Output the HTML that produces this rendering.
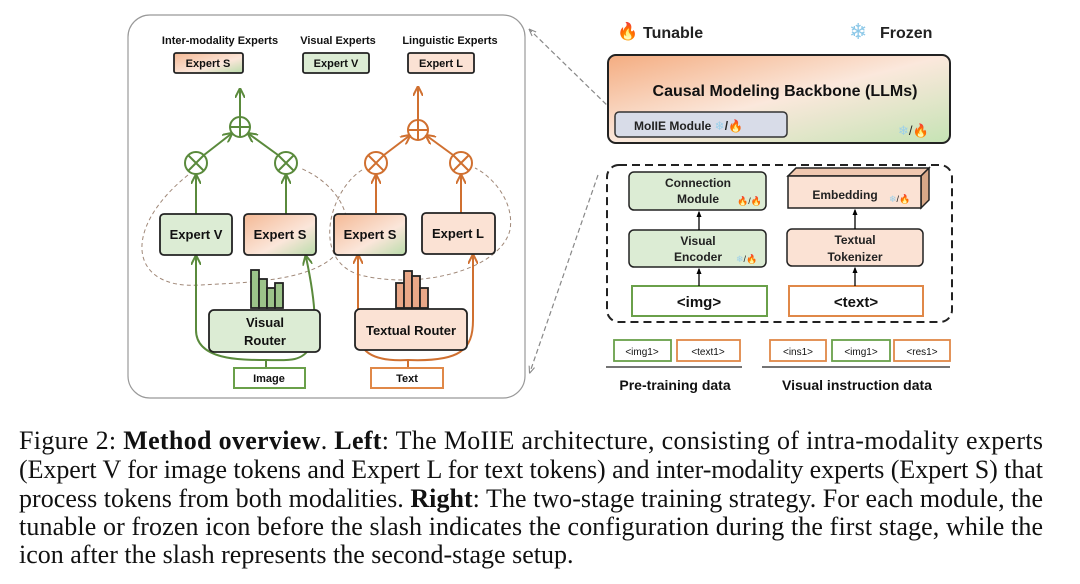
<!DOCTYPE html>
<html><head><meta charset="utf-8"><style>
body{margin:0;background:#fff;width:1080px;height:579px;overflow:hidden}
svg text{font-family:"Liberation Sans","DejaVu Sans",sans-serif}
.c{font-family:"Liberation Serif",serif;font-size:26px;fill:#111}
</style></head><body>
<svg width="1080" height="579" viewBox="0 0 1080 579" xmlns="http://www.w3.org/2000/svg">
<defs>
<marker id="ag" viewBox="0 0 10 10" refX="8" refY="5" markerWidth="5" markerHeight="5" orient="auto"><path d="M0,0 L10,5 L0,10" fill="none" stroke="#5a8a3c" stroke-width="2"/></marker>
<marker id="ao" viewBox="0 0 10 10" refX="8" refY="5" markerWidth="5" markerHeight="5" orient="auto"><path d="M0,0 L10,5 L0,10" fill="none" stroke="#d07030" stroke-width="2"/></marker>
<marker id="ak" viewBox="0 0 10 10" refX="8" refY="5" markerWidth="5" markerHeight="5" orient="auto"><path d="M0,1 L10,5 L0,9z" fill="#000"/></marker>
<marker id="agr" viewBox="0 0 10 10" refX="8" refY="5" markerWidth="6" markerHeight="6" orient="auto"><path d="M0,1 L10,5 L0,9" fill="none" stroke="#888" stroke-width="1.5"/></marker>
<linearGradient id="gs" x1="0" y1="0" x2="1" y2="1"><stop offset="0" stop-color="#f4b894"/><stop offset=".6" stop-color="#fbe6da"/><stop offset="1" stop-color="#b9dcaa"/></linearGradient>
<linearGradient id="gb" x1="0" y1="0" x2="1" y2="1"><stop offset="0" stop-color="#f4ac80"/><stop offset=".5" stop-color="#fbe8dc"/><stop offset="1" stop-color="#c5e3b4"/></linearGradient>
</defs>
<rect x="128" y="15" width="397" height="383" rx="22" fill="none" stroke="#999" stroke-width="1.2"/>
<g font-size="11" font-weight="bold" text-anchor="middle" fill="#111">
<text x="220" y="44">Inter-modality Experts</text><text x="338" y="44">Visual Experts</text><text x="450" y="44">Linguistic Experts</text>
</g>
<g stroke="#222" stroke-width="1.8">
<rect x="174" y="53" width="69" height="20" rx="2" fill="url(#gs)"/>
<rect x="303" y="53" width="66" height="20" rx="2" fill="#dcecd4"/>
<rect x="408" y="53" width="66" height="20" rx="2" fill="#fbe2d4"/>
</g>
<g font-size="11" font-weight="bold" text-anchor="middle" fill="#111">
<text x="208" y="67">Expert S</text><text x="336" y="67">Expert V</text><text x="441" y="67">Expert L</text>
</g>
<path d="M188,175 C120,230 130,290 200,285 C260,282 330,280 345,240 C355,210 330,180 300,168" fill="none" stroke="#a08878" stroke-dasharray="4,3" stroke-width="1"/>
<path d="M362,170 C330,190 310,260 360,275 C420,290 500,270 510,230 C515,200 490,175 475,168" fill="none" stroke="#a08878" stroke-dasharray="4,3" stroke-width="1"/>
<g stroke="#5a8a3c" stroke-width="2" fill="none">
<circle cx="240" cy="127" r="10"/><path d="M230,127h20M240,117v20"/>
<line x1="240" y1="117" x2="240" y2="90" marker-end="url(#ag)"/>
<circle cx="196" cy="163" r="11"/><path d="M188,155l16,16M204,155l-16,16"/>
<circle cx="286" cy="163" r="11"/><path d="M278,155l16,16M294,155l-16,16"/>
<line x1="204" y1="155" x2="231" y2="134" marker-end="url(#ag)"/>
<line x1="278" y1="155" x2="249" y2="134" marker-end="url(#ag)"/>
<line x1="196" y1="214" x2="196" y2="176" marker-end="url(#ag)"/>
<line x1="286" y1="214" x2="286" y2="176" marker-end="url(#ag)"/>
<path d="M266,368 V360 C240,360 196,360 196,330 V257" marker-end="url(#ag)"/>
<path d="M266,360 C300,360 330,370 306,257" marker-end="url(#ag)"/>
</g>
<g stroke="#d07030" stroke-width="2" fill="none">
<circle cx="418" cy="130" r="10"/><path d="M408,130h20M418,120v20"/>
<line x1="418" y1="120" x2="418" y2="88" marker-end="url(#ao)"/>
<circle cx="376" cy="163" r="11"/><path d="M368,155l16,16M384,155l-16,16"/>
<circle cx="461" cy="163" r="11"/><path d="M453,155l16,16M469,155l-16,16"/>
<line x1="384" y1="155" x2="409" y2="136" marker-end="url(#ao)"/>
<line x1="453" y1="155" x2="427" y2="136" marker-end="url(#ao)"/>
<line x1="376" y1="213" x2="376" y2="176" marker-end="url(#ao)"/>
<line x1="461" y1="213" x2="461" y2="176" marker-end="url(#ao)"/>
<path d="M408,368 V360 C370,362 358,350 358,330 C358,300 358,280 358,256" marker-end="url(#ao)"/>
<path d="M408,360 C460,362 473,350 473,320 V256" marker-end="url(#ao)"/>
</g>
<g stroke="#222" stroke-width="1.8">
<rect x="160" y="214" width="72" height="41" rx="4" fill="#dcecd4"/>
<rect x="244" y="214" width="72" height="41" rx="4" fill="url(#gs)"/>
<rect x="334" y="214" width="72" height="41" rx="4" fill="url(#gs)"/>
<rect x="422" y="213" width="73" height="41" rx="4" fill="#fbe2d4"/>
<rect x="209" y="310" width="111" height="42" rx="5" fill="#dcecd4"/>
<rect x="355" y="309" width="112" height="41" rx="5" fill="#fbe2d4"/>
<rect x="251" y="270" width="8" height="38" fill="#9cc48a"/><rect x="259" y="279" width="8" height="29" fill="#9cc48a"/><rect x="267" y="288" width="8" height="20" fill="#9cc48a"/><rect x="275" y="283" width="8" height="25" fill="#9cc48a"/>
<rect x="396" y="283" width="8" height="25" fill="#eaa888"/><rect x="404" y="271" width="8" height="37" fill="#eaa888"/><rect x="412" y="276" width="8" height="32" fill="#eaa888"/><rect x="420" y="288" width="8" height="20" fill="#eaa888"/>
</g>
<rect x="234" y="368" width="71" height="20" fill="#fff" stroke="#6aa04a" stroke-width="2"/>
<rect x="371" y="368" width="72" height="20" fill="#fff" stroke="#e08848" stroke-width="2"/>
<g font-size="13" font-weight="bold" text-anchor="middle" fill="#111">
<text x="196" y="239">Expert V</text><text x="280" y="239">Expert S</text><text x="370" y="239">Expert S</text><text x="458" y="238">Expert L</text>
<text x="265" y="327">Visual</text><text x="265" y="345">Router</text><text x="411" y="335">Textual Router</text>
</g>
<g font-size="11" font-weight="bold" text-anchor="middle" fill="#111"><text x="269" y="382">Image</text><text x="407" y="382">Text</text></g>
<line x1="612" y1="110" x2="530" y2="30" stroke="#888" stroke-dasharray="5,3" stroke-width="1.2" marker-end="url(#agr)"/>
<line x1="598" y1="175" x2="530" y2="372" stroke="#888" stroke-dasharray="5,3" stroke-width="1.2" marker-end="url(#agr)"/>
<text x="617" y="37" font-size="17">🔥</text><text x="643" y="38" font-size="16" font-weight="bold" fill="#222">Tunable</text>
<text x="849" y="39" font-size="22" fill="#8cc8e8">❄</text><text x="880" y="38" font-size="16" font-weight="bold" fill="#222">Frozen</text>
<rect x="608" y="55" width="342" height="88" rx="8" fill="url(#gb)" stroke="#222" stroke-width="2"/>
<text x="785" y="96" font-size="16" font-weight="bold" text-anchor="middle" fill="#111">Causal Modeling Backbone (LLMs)</text>
<rect x="615" y="112" width="172" height="25" rx="4" fill="#d8dce8" stroke="#333" stroke-width="1.5"/>
<text x="634" y="130" font-size="12" font-weight="bold" fill="#222">MoIIE Module <tspan fill="#9cd0ea">❄</tspan>/🔥</text>
<text x="898" y="135" font-size="13" fill="#222"><tspan fill="#9cd0ea">❄</tspan>/🔥</text>
<rect x="607" y="165" width="345" height="157" rx="12" fill="none" stroke="#222" stroke-width="2" stroke-dasharray="8,5"/>
<g stroke="#222" stroke-width="1.5">
<rect x="629" y="172" width="137" height="38" rx="5" fill="#dcecd4"/>
<rect x="629" y="230" width="137" height="37" rx="5" fill="#dcecd4"/>
<path d="M788,176 l8,-8 h133 l-8,8z" fill="#f0c8b0"/><path d="M921,176 l8,-8 v32 l-8,8z" fill="#d8a888"/>
<rect x="788" y="176" width="133" height="32" fill="#fbe2d4"/>
<rect x="787" y="229" width="136" height="37" rx="5" fill="#fbe2d4"/>
</g>
<rect x="632" y="286" width="135" height="30" fill="#fff" stroke="#6aa04a" stroke-width="2"/>
<rect x="789" y="286" width="134" height="30" fill="#fff" stroke="#e08848" stroke-width="2"/>
<g stroke="#000" stroke-width="1.3"><line x1="699" y1="286" x2="699" y2="269" marker-end="url(#ak)"/><line x1="699" y1="230" x2="699" y2="212" marker-end="url(#ak)"/><line x1="855" y1="286" x2="855" y2="268" marker-end="url(#ak)"/><line x1="855" y1="229" x2="855" y2="210" marker-end="url(#ak)"/></g>
<g font-size="12" font-weight="bold" text-anchor="middle" fill="#222">
<text x="698" y="187">Connection</text><text x="698" y="203">Module</text>
<text x="698" y="245">Visual</text><text x="698" y="261">Encoder</text>
<text x="845" y="199">Embedding</text>
<text x="855" y="244">Textual</text><text x="855" y="261">Tokenizer</text>
</g>
<g font-size="9" fill="#222"><text x="737" y="204">🔥/🔥</text><text x="736" y="262"><tspan fill="#9cd0ea">❄</tspan>/🔥</text><text x="889" y="202"><tspan fill="#9cd0ea">❄</tspan>/🔥</text></g>
<g font-size="15" font-weight="bold" text-anchor="middle" fill="#111"><text x="699" y="307">&lt;img&gt;</text><text x="856" y="307">&lt;text&gt;</text></g>
<g stroke-width="1.8" fill="#fff">
<rect x="614" y="340" width="57" height="21" stroke="#6aa04a"/><rect x="677" y="340" width="63" height="21" stroke="#e08848"/>
<rect x="770" y="340" width="56" height="21" stroke="#e08848"/><rect x="832" y="340" width="58" height="21" stroke="#6aa04a"/><rect x="894" y="340" width="56" height="21" stroke="#e08848"/>
</g>
<g font-size="10" text-anchor="middle" fill="#111"><text x="642" y="355">&lt;img1&gt;</text><text x="708" y="355">&lt;text1&gt;</text><text x="798" y="355">&lt;ins1&gt;</text><text x="861" y="355">&lt;img1&gt;</text><text x="922" y="355">&lt;res1&gt;</text></g>
<line x1="606" y1="367" x2="742" y2="367" stroke="#222" stroke-width="1.2"/><line x1="762" y1="367" x2="950" y2="367" stroke="#222" stroke-width="1.2"/>
<g font-size="14" font-weight="bold" text-anchor="middle" fill="#111"><text x="675" y="390">Pre-training data</text><text x="857" y="390">Visual instruction data</text></g>
<text class="c" x="19" y="449" textLength="1024" lengthAdjust="spacing">Figure 2: <tspan font-weight="bold">Method overview</tspan>. <tspan font-weight="bold">Left</tspan>: The MoIIE architecture, consisting of intra-modality experts</text>
<text class="c" x="19" y="478" textLength="1024" lengthAdjust="spacing">(Expert V for image tokens and Expert L for text tokens) and inter-modality experts (Expert S) that</text>
<text class="c" x="19" y="507" textLength="1024" lengthAdjust="spacing">process tokens from both modalities. <tspan font-weight="bold">Right</tspan>: The two-stage training strategy. For each module, the</text>
<text class="c" x="19" y="535" textLength="1024" lengthAdjust="spacing">tunable or frozen icon before the slash indicates the configuration during the first stage, while the</text>
<text class="c" x="19" y="563">icon after the slash represents the second-stage setup.</text>
</svg>
</body></html>
